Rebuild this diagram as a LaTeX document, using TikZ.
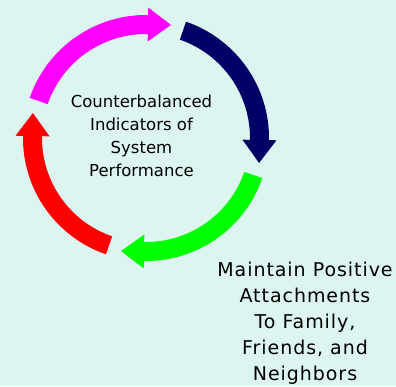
\documentclass[tikz,border=0pt]{standalone}
\usepackage{fontspec}
\setmainfont{DejaVu Sans}
\usepackage{xcolor}
\definecolor{cycleBack}{HTML}{DDF5F1}
\definecolor{cycleMagenta}{HTML}{FF00FF}
\definecolor{cycleNavy}{HTML}{000066}
\definecolor{cycleGreen}{HTML}{00FF00}
\definecolor{cycleRed}{HTML}{FF0000}
\usetikzlibrary{calc}

\begin{document}
\begin{tikzpicture}[x=1pt, y=1pt,
  centre/.style={align=center, inner sep=0pt, text=black,
    font=\fontsize{16.5}{23}\selectfont},
  goal/.style={align=center, inner sep=0pt, text=black,
    font=\fontsize{19}{26}\selectfont\addfontfeature{LetterSpace=5}}
]
  % Background
  \fill[cycleBack] (0,0) rectangle (396,-386);
  \useasboundingbox (0,0) rectangle (396,-386);
  \coordinate (hub) at (146,-138);

  % Arrows (outer radius 123, inner 104, head 17 each side of the middle)
  \fill[cycleMagenta] ($(hub)+(161:123)$) arc[start angle=161, end angle=89, radius=123]
    -- ($(hub)+(89:130.5)$) -- ($(hub)+(89:113.5)+(-1:23)$) -- ($(hub)+(89:96.5)$)
    -- ($(hub)+(89:104)$) arc[start angle=89, end angle=161, radius=104] -- cycle;
  \fill[cycleNavy] ($(hub)+(71:123)$) arc[start angle=71, end angle=-1, radius=123]
    -- ($(hub)+(-1:130.5)$) -- ($(hub)+(-1:113.5)+(-91:23)$) -- ($(hub)+(-1:96.5)$)
    -- ($(hub)+(-1:104)$) arc[start angle=-1, end angle=71, radius=104] -- cycle;
  \fill[cycleGreen] ($(hub)+(-19:123)$) arc[start angle=-19, end angle=-91, radius=123]
    -- ($(hub)+(-91:130.5)$) -- ($(hub)+(-91:113.5)+(-181:23)$) -- ($(hub)+(-91:96.5)$)
    -- ($(hub)+(-91:104)$) arc[start angle=-91, end angle=-19, radius=104] -- cycle;
  \fill[cycleRed] ($(hub)+(-109:123)$) arc[start angle=-109, end angle=-181, radius=123]
    -- ($(hub)+(-181:130.5)$) -- ($(hub)+(-181:113.5)+(-271:23)$) -- ($(hub)+(-181:96.5)$)
    -- ($(hub)+(-181:104)$) arc[start angle=-181, end angle=-109, radius=104] -- cycle;

  % Labels
  \node[centre] (indicators) at (141.5,-135.5) {Counterbalanced\\Indicators of\\System\\Performance};
  \node[goal] (attach) at (305,-323) {Maintain Positive\\Attachments\\To Family,\\Friends, and\\Neighbors};
\end{tikzpicture}
\end{document}
